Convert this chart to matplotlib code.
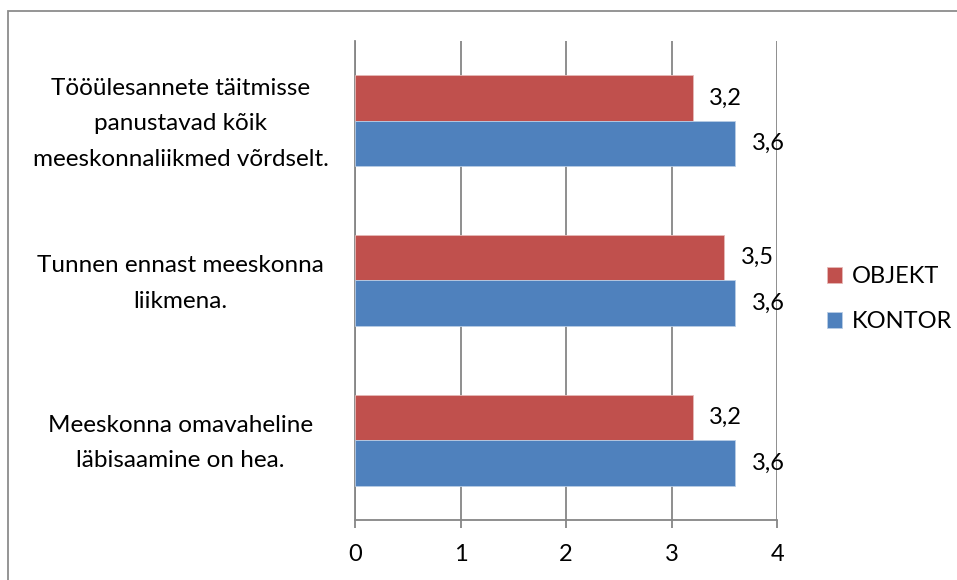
import matplotlib
matplotlib.use("Agg")
import matplotlib.pyplot as plt
from matplotlib.patches import Rectangle
import matplotlib.transforms as mtransforms

plt.rcParams['font.family'] = ['Lato', 'DejaVu Sans']

# küsimused ülevalt alla
categories = [
    "Tööülesannete täitmisse\npanustavad kõik\nmeeskonnaliikmed võrdselt.",
    "Tunnen ennast meeskonna\nliikmena.",
    "Meeskonna omavaheline\nläbisaamine on hea.",
]
objekt = [3.2, 3.5, 3.2]
kontor = [3.6, 3.6, 3.6]
xticks = [0, 1, 2, 3, 4]

red = "#C0504D"
blue = "#4F81BD"
grid_col = "#868686"
fs = 17

fig = plt.figure(figsize=(9.57, 5.8), dpi=100)
ax = fig.add_axes([0.371, 0.1034, 0.441, 0.826])

n = len(categories)
ypos = [n - 1 - i for i in range(n)]
h = 0.285

b1 = ax.barh([y + h / 2 for y in ypos], objekt, height=h, color=red,
             edgecolor="#E6B9B8", linewidth=0.6, label="OBJEKT", zorder=3)
b2 = ax.barh([y - h / 2 for y in ypos], kontor, height=h, color=blue,
             edgecolor="#B9CDE5", linewidth=0.6, label="KONTOR", zorder=3)

for bars, vals in ((b1, objekt), (b2, kontor)):
    for bar, v in zip(bars, vals):
        ax.annotate(f"{v:.1f}".replace(".", ","),
                    (v, bar.get_y() + bar.get_height() / 2),
                    xytext=(12, 0), textcoords="offset points",
                    ha="left", va="center", fontsize=fs, zorder=4)

ax.set_xlim(0, 4)
ax.set_ylim(-0.5, n - 0.5)
ax.set_xticks(xticks)
ax.set_xticklabels([str(t) for t in xticks], fontsize=fs)
ax.set_yticks([])
ax.xaxis.grid(True, color=grid_col, linewidth=1.3, zorder=0)
ax.tick_params(axis="x", direction="out", length=6, width=1.3,
               color=grid_col, pad=11)

for s in ("top", "right"):
    ax.spines[s].set_visible(False)
for s in ("left", "bottom"):
    ax.spines[s].set_color(grid_col)
    ax.spines[s].set_linewidth(1.3)

# küsimuste tekstid telje vasakul, keskele joondatud
trans = mtransforms.blended_transform_factory(ax.transAxes, ax.transData)
for y, lab in zip(ypos, categories):
    ax.text(-0.413, y - 0.018, lab, transform=trans, ha="center", va="center",
            multialignment="center", fontsize=17.5, linespacing=1.85)

ax.legend(loc="center left", bbox_to_anchor=(1.118, 0.461), frameon=False,
          fontsize=fs, handlelength=0.65, handleheight=0.65,
          handletextpad=0.4, labelspacing=1.0, borderaxespad=0,
          borderpad=0)

# raam ümber diagrammi
fig.patches.append(Rectangle((8 / 957, -0.05), 1.1, 1 - 11 / 580 + 0.05,
                             transform=fig.transFigure, fill=False,
                             edgecolor="#8C8C8C", linewidth=1.3))

fig.savefig("out.png", dpi=100)
